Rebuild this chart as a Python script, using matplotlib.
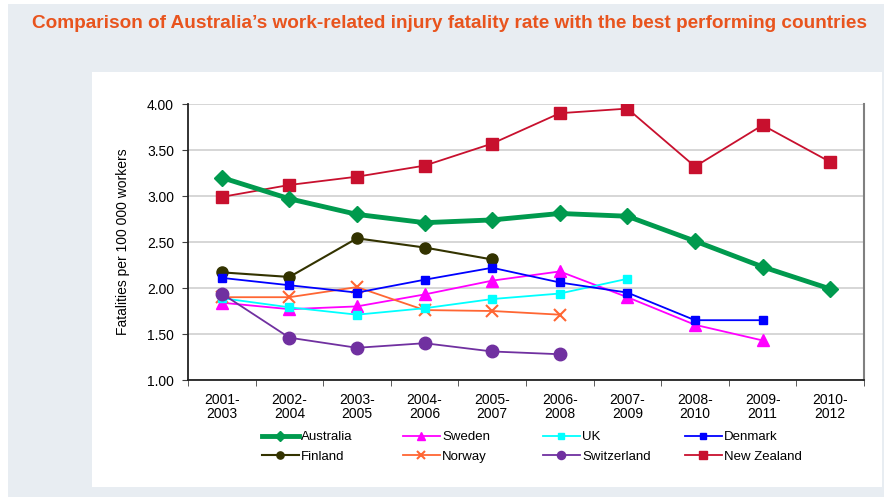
import numpy as np
import matplotlib.pyplot as plt
from matplotlib.patches import Rectangle

plt.rcParams['font.family'] = ['Liberation Sans', 'DejaVu Sans']

#----- DATA --------------------------------------------------------
periods = ["2001-\n2003", "2002-\n2004", "2003-\n2005", "2004-\n2006", "2005-\n2007",
           "2006-\n2008", "2007-\n2009", "2008-\n2010", "2009-\n2011", "2010-\n2012"]

australia = [3.20, 2.97, 2.80, 2.71, 2.74, 2.81, 2.78, 2.51, 2.23, 1.99]
new_zealand = [2.99, 3.12, 3.21, 3.33, 3.57, 3.90, 3.95, 3.32, 3.77, 3.37]
finland = [2.17, 2.12, 2.54, 2.44, 2.31]
denmark = [2.11, 2.03, 1.95, 2.09, 2.22, 2.06, 1.95, 1.65, 1.65]
sweden = [1.84, 1.77, 1.80, 1.93, 2.08, 2.18, 1.90, 1.60, 1.43]
uk = [1.89, 1.79, 1.71, 1.78, 1.88, 1.94, 2.10]
norway = [1.90, 1.90, 2.01, 1.76, 1.75, 1.71]
switzerland = [1.94, 1.46, 1.35, 1.40, 1.31, 1.28]

#----- FIGURE ------------------------------------------------------
fig = plt.figure(figsize=(8.84, 4.97), dpi=100)
fig.patch.set_facecolor('white')
W, H = 884, 497
# grey background and white chart panel
fig.patches.append(Rectangle((8 / W, 0), 1 - 8 / W, 1 - 4 / H, transform=fig.transFigure,
                             facecolor='#e8edf2', edgecolor='none', zorder=-2))
fig.patches.append(Rectangle((92 / W, 1 - 487 / H), (882 - 92) / W, (487 - 72) / H,
                             transform=fig.transFigure, facecolor='white',
                             edgecolor='none', zorder=-1))

fig.text(449 / W, 1 - 23 / H,
         "Comparison of Australia\u2019s work-related injury fatality rate with the best performing countries",
         ha='center', va='center', fontsize=13.7, fontweight='bold', color='#e8541e')

ax = fig.add_axes([188 / W, 1 - 380 / H, (864 - 188) / W, (380 - 104) / H])
ax.set_facecolor('white')

x = np.arange(len(periods))

def series(vals, **kw):
    return ax.plot(x[:len(vals)], vals, **kw)[0]

h_aus = series(australia, color='#009a4e', lw=3.5, marker='D', ms=8, label='Australia', zorder=5)
h_fin = series(finland, color='#333300', lw=1.5, marker='o', ms=8, label='Finland')
h_swe = series(sweden, color='#ff00ff', lw=1.3, marker='^', ms=8, label='Sweden')
h_nor = series(norway, color='#ff6633', lw=1.3, marker='x', ms=8, mew=1.5, label='Norway')
h_uk = series(uk, color='#00ffff', lw=1.3, marker='s', ms=6, label='UK')
h_swi = series(switzerland, color='#7030a0', lw=1.3, marker='o', ms=9, label='Switzerland')
h_den = series(denmark, color='#0000ff', lw=1.3, marker='s', ms=6, label='Denmark')
h_nz = series(new_zealand, color='#c8102e', lw=1.3, marker='s', ms=8, label='New Zealand', zorder=4)

ax.set_xlim(-0.5, len(periods) - 0.5)
ax.set_ylim(1.0, 4.0)
ax.set_yticks(np.arange(1.0, 4.01, 0.5))
ax.set_yticklabels([f"{v:.2f}" for v in np.arange(1.0, 4.01, 0.5)])
ax.yaxis.grid(True, color='#d0d0d0', lw=1.2)
ax.set_axisbelow(True)

ax.set_xticks(x)
ax.set_xticklabels(periods, linespacing=1.0)
ax.set_xticks(np.arange(-0.5, len(periods)), minor=True)
ax.tick_params(axis='x', which='major', length=0, pad=9, labelsize=10)
ax.tick_params(axis='x', which='minor', length=4, color='#404040')
ax.tick_params(axis='y', length=4, color='#404040', labelsize=10, pad=6)

for s in ['left', 'bottom']:
    ax.spines[s].set_color('#222222')
    ax.spines[s].set_linewidth(1.3)
ax.spines['right'].set_color('#808080')
ax.spines['right'].set_linewidth(1.5)
ax.spines['top'].set_visible(False)

ax.set_ylabel("Fatalities per 100 000 workers", fontsize=10, labelpad=12)

# legend: four evenly spaced columns, two rows each
columns = [(h_aus, h_fin), (h_swe, h_nor), (h_uk, h_swi), (h_den, h_nz)]
col_x = [262, 403, 543, 685]
for cx, hs in zip(col_x, columns):
    leg = fig.legend(handles=list(hs), labels=[h.get_label() for h in hs],
                     loc='center left', bbox_to_anchor=(cx / W, 1 - 447 / H),
                     frameon=False, fontsize=9.5, handlelength=2.8, labelspacing=0.55,
                     handletextpad=0.15, borderpad=0, borderaxespad=0, markerscale=0.65)

fig.savefig('out.png', dpi=100)
